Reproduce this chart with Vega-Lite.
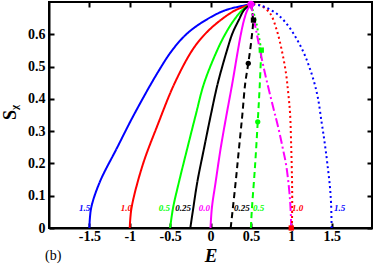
{
  "$schema": "https://vega.github.io/schema/vega-lite/v6.json",
  "width": 323,
  "height": 226,
  "autosize": "none",
  "padding": {"left": 49, "top": 2, "right": 2, "bottom": 36},
  "background": "white",
  "title": {"text": "(b)", "orient": "bottom", "anchor": "start", "frame": "group", "font": "Liberation Serif, DejaVu Serif, serif", "fontSize": 14, "fontWeight": "normal", "color": "black", "offset": -16, "dx": -4},
  "config": {
    "view": {"stroke": "black", "strokeWidth": 2},
    "font": "Liberation Serif, DejaVu Serif, serif",
    "axis": {"domainColor": "black", "domainWidth": 2, "tickColor": "black", "tickWidth": 2, "tickSize": -5, "labelFont": "Liberation Serif, DejaVu Serif, serif", "labelFontSize": 14, "labelFontWeight": "bold", "labelColor": "black", "grid": false, "titleFont": "Liberation Serif, DejaVu Serif, serif", "titleColor": "black"}
  },
  "datasets": {
    "curves": [
      {"c": "1.5L", "E": -1.5, "S": 0},
      {"c": "1.5L", "E": -1.478, "S": 0.062},
      {"c": "1.5L", "E": -1.37, "S": 0.143},
      {"c": "1.5L", "E": -1.16, "S": 0.247},
      {"c": "1.5L", "E": -0.95, "S": 0.35},
      {"c": "1.5L", "E": -0.66, "S": 0.479},
      {"c": "1.5L", "E": -0.473, "S": 0.551},
      {"c": "1.5L", "E": -0.287, "S": 0.603},
      {"c": "1.5L", "E": -0.059, "S": 0.644},
      {"c": "1.5L", "E": 0.189, "S": 0.675},
      {"c": "1.5L", "E": 0.5, "S": 0.693},
      {"c": "1.0L", "E": -1.0, "S": 0},
      {"c": "1.0L", "E": -0.978, "S": 0.062},
      {"c": "1.0L", "E": -0.84, "S": 0.195},
      {"c": "1.0L", "E": -0.655, "S": 0.319},
      {"c": "1.0L", "E": -0.445, "S": 0.448},
      {"c": "1.0L", "E": -0.225, "S": 0.551},
      {"c": "1.0L", "E": -0.059, "S": 0.603},
      {"c": "1.0L", "E": 0.126, "S": 0.644},
      {"c": "1.0L", "E": 0.312, "S": 0.675},
      {"c": "1.0L", "E": 0.5, "S": 0.693},
      {"c": "0.5L", "E": -0.5, "S": 0},
      {"c": "0.5L", "E": -0.464, "S": 0.062},
      {"c": "0.5L", "E": -0.39, "S": 0.143},
      {"c": "0.5L", "E": -0.287, "S": 0.247},
      {"c": "0.5L", "E": -0.183, "S": 0.35},
      {"c": "0.5L", "E": -0.08, "S": 0.448},
      {"c": "0.5L", "E": 0.084, "S": 0.551},
      {"c": "0.5L", "E": 0.188, "S": 0.603},
      {"c": "0.5L", "E": 0.291, "S": 0.644},
      {"c": "0.5L", "E": 0.394, "S": 0.675},
      {"c": "0.5L", "E": 0.5, "S": 0.693},
      {"c": "0.25L", "E": -0.25, "S": 0},
      {"c": "0.25L", "E": -0.213, "S": 0.062},
      {"c": "0.25L", "E": -0.163, "S": 0.143},
      {"c": "0.25L", "E": -0.08, "S": 0.247},
      {"c": "0.25L", "E": 0.004, "S": 0.35},
      {"c": "0.25L", "E": 0.09, "S": 0.448},
      {"c": "0.25L", "E": 0.205, "S": 0.551},
      {"c": "0.25L", "E": 0.272, "S": 0.603},
      {"c": "0.25L", "E": 0.35, "S": 0.644},
      {"c": "0.25L", "E": 0.415, "S": 0.675},
      {"c": "0.25L", "E": 0.5, "S": 0.693},
      {"c": "0.0L", "E": 0.0, "S": 0},
      {"c": "0.0L", "E": 0.017, "S": 0.062},
      {"c": "0.0L", "E": 0.064, "S": 0.143},
      {"c": "0.0L", "E": 0.126, "S": 0.247},
      {"c": "0.0L", "E": 0.198, "S": 0.35},
      {"c": "0.0L", "E": 0.27, "S": 0.448},
      {"c": "0.0L", "E": 0.34, "S": 0.551},
      {"c": "0.0L", "E": 0.378, "S": 0.603},
      {"c": "0.0L", "E": 0.415, "S": 0.644},
      {"c": "0.0L", "E": 0.456, "S": 0.675},
      {"c": "0.0L", "E": 0.5, "S": 0.693},
      {"c": "0.25R", "E": 0.25, "S": 0},
      {"c": "0.25R", "E": 0.312, "S": 0.143},
      {"c": "0.25R", "E": 0.353, "S": 0.247},
      {"c": "0.25R", "E": 0.394, "S": 0.35},
      {"c": "0.25R", "E": 0.43, "S": 0.448},
      {"c": "0.25R", "E": 0.468, "S": 0.51},
      {"c": "0.25R", "E": 0.506, "S": 0.582},
      {"c": "0.25R", "E": 0.527, "S": 0.644},
      {"c": "0.25R", "E": 0.5, "S": 0.693},
      {"c": "0.5Ru", "E": 0.629, "S": 0.551},
      {"c": "0.5Ru", "E": 0.592, "S": 0.603},
      {"c": "0.5Ru", "E": 0.56, "S": 0.644},
      {"c": "0.5Ru", "E": 0.5, "S": 0.693},
      {"c": "0.5Rl", "E": 0.5, "S": 0},
      {"c": "0.5Rl", "E": 0.512, "S": 0.056},
      {"c": "0.5Rl", "E": 0.551, "S": 0.19},
      {"c": "0.5Rl", "E": 0.585, "S": 0.329},
      {"c": "0.5Rl", "E": 0.61, "S": 0.443},
      {"c": "0.5Rl", "E": 0.629, "S": 0.551},
      {"c": "0.0R", "E": 1.0, "S": 0},
      {"c": "0.0R", "E": 0.985, "S": 0.087},
      {"c": "0.0R", "E": 0.94, "S": 0.19},
      {"c": "0.0R", "E": 0.895, "S": 0.247},
      {"c": "0.0R", "E": 0.84, "S": 0.31},
      {"c": "0.0R", "E": 0.77, "S": 0.38},
      {"c": "0.0R", "E": 0.66, "S": 0.495},
      {"c": "0.0R", "E": 0.572, "S": 0.603},
      {"c": "0.0R", "E": 0.5, "S": 0.693},
      {"c": "1.0R", "E": 1.008, "S": 0.0},
      {"c": "1.0R", "E": 1.012, "S": 0.087},
      {"c": "1.0R", "E": 1.009, "S": 0.155},
      {"c": "1.0R", "E": 1.0, "S": 0.247},
      {"c": "1.0R", "E": 0.985, "S": 0.356},
      {"c": "1.0R", "E": 0.963, "S": 0.417},
      {"c": "1.0R", "E": 0.935, "S": 0.479},
      {"c": "1.0R", "E": 0.882, "S": 0.551},
      {"c": "1.0R", "E": 0.82, "S": 0.613},
      {"c": "1.0R", "E": 0.737, "S": 0.665},
      {"c": "1.0R", "E": 0.613, "S": 0.69},
      {"c": "1.0R", "E": 0.5, "S": 0.693},
      {"c": "1.5R", "E": 1.5, "S": 0},
      {"c": "1.5R", "E": 1.493, "S": 0.076},
      {"c": "1.5R", "E": 1.479, "S": 0.128},
      {"c": "1.5R", "E": 1.459, "S": 0.174},
      {"c": "1.5R", "E": 1.434, "S": 0.226},
      {"c": "1.5R", "E": 1.406, "S": 0.278},
      {"c": "1.5R", "E": 1.375, "S": 0.329},
      {"c": "1.5R", "E": 1.331, "S": 0.402},
      {"c": "1.5R", "E": 1.282, "S": 0.453},
      {"c": "1.5R", "E": 1.222, "S": 0.5},
      {"c": "1.5R", "E": 1.158, "S": 0.541},
      {"c": "1.5R", "E": 1.075, "S": 0.582},
      {"c": "1.5R", "E": 0.972, "S": 0.623},
      {"c": "1.5R", "E": 0.848, "S": 0.658},
      {"c": "1.5R", "E": 0.72, "S": 0.679},
      {"c": "1.5R", "E": 0.6, "S": 0.69},
      {"c": "1.5R", "E": 0.5, "S": 0.693}
    ],
    "labels": [
      {"c": "1.5L", "E": -1.49, "S": 0.062, "t": "1.5", "side": "L"},
      {"c": "1.0L", "E": -0.972, "S": 0.062, "t": "1.0", "side": "L"},
      {"c": "0.5L", "E": -0.502, "S": 0.062, "t": "0.5", "side": "L"},
      {"c": "0.25L", "E": -0.242, "S": 0.062, "t": "0.25", "side": "L"},
      {"c": "0.0L", "E": -0.006, "S": 0.062, "t": "0.0", "side": "L"},
      {"c": "0.25R", "E": 0.291, "S": 0.062, "t": "0.25", "side": "R"},
      {"c": "0.5Rl", "E": 0.526, "S": 0.062, "t": "0.5", "side": "R"},
      {"c": "1.0R", "E": 1.009, "S": 0.062, "t": "1.0", "side": "R"},
      {"c": "1.5R", "E": 1.529, "S": 0.062, "t": "1.5", "side": "R"}
    ],
    "markers": [
      {"c": "0.0L", "E": 0.5, "S": 0.693, "sh": "circle"},
      {"c": "0.25R", "E": 0.532, "S": 0.644, "sh": "square"},
      {"c": "0.25R", "E": 0.468, "S": 0.51, "sh": "circle"},
      {"c": "0.5Rl", "E": 0.629, "S": 0.551, "sh": "square"},
      {"c": "0.5Rl", "E": 0.585, "S": 0.329, "sh": "circle"},
      {"c": "1.0R", "E": 1.0, "S": 0.0, "sh": "square"}
    ]
  },
  "resolve": {"axis": {"x": "independent", "y": "independent"}},
  "layer": [
    {
      "data": {"name": "curves"},
      "mark": {"type": "line", "strokeWidth": 2, "strokeCap": "butt", "interpolate": "catmull-rom"},
      "encoding": {
        "x": {"field": "E", "type": "quantitative", "scale": {"domain": [-2, 2], "nice": false, "zero": false},
          "axis": {"orient": "bottom", "values": [-1.5, -1, -0.5, 0, 0.5, 1, 1.5], "labelExpr": "'' + datum.value", "labelPadding": 6, "title": "E", "titleFontSize": 19, "titleFontWeight": "bold", "titleFontStyle": "italic", "titleBaseline": "alphabetic", "titleY": 33}},
        "y": {"field": "S", "type": "quantitative", "scale": {"domain": [0, 0.7], "nice": false},
          "axis": {"orient": "left", "values": [0, 0.1, 0.2, 0.3, 0.4, 0.5, 0.6], "labelExpr": "datum.value == 0 ? '0' : format(datum.value, '.1f')", "labelPadding": 9, "title": "Sᵪ", "titleFontSize": 18, "titleFontWeight": "bold", "titleAngle": -90, "titleX": -39, "titleY": 110, "titleAlign": "center", "titleBaseline": "middle"}},
        "detail": {"field": "c"},
        "order": {"field": "S", "type": "quantitative"},
        "color": {"field": "c", "type": "nominal", "legend": null,
          "scale": {"domain": ["1.5L", "1.0L", "0.5L", "0.25L", "0.0L", "0.25R", "0.5Ru", "0.5Rl", "0.0R", "1.0R", "1.5R"],
            "range": ["#0000ff", "#ff0000", "#00ff00", "#000000", "#ff00ff", "#000000", "#00ff00", "#00ff00", "#ff00ff", "#ff0000", "#0000ff"]}},
        "strokeDash": {"field": "c", "type": "nominal", "legend": null,
          "scale": {"domain": ["1.5L", "1.0L", "0.5L", "0.25L", "0.0L", "0.25R", "0.5Ru", "0.5Rl", "0.0R", "1.0R", "1.5R"],
            "range": [[1, 0], [1, 0], [1, 0], [1, 0], [1, 0], [6, 4], [2, 3], [6, 4], [9, 3, 2, 3], [2, 3], [2, 3]]}}
      }
    },
    {
      "data": {"name": "labels"},
      "transform": [{"filter": "datum.side == 'L'"}],
      "mark": {"type": "text", "align": "right", "baseline": "middle", "font": "Liberation Serif, DejaVu Serif, serif", "fontSize": 9, "fontWeight": "bold", "fontStyle": "italic"},
      "encoding": {
        "x": {"field": "E", "type": "quantitative", "axis": null},
        "y": {"field": "S", "type": "quantitative", "axis": null},
        "text": {"field": "t"},
        "color": {"field": "c", "type": "nominal", "legend": null}
      }
    },
    {
      "data": {"name": "labels"},
      "transform": [{"filter": "datum.side == 'R'"}],
      "mark": {"type": "text", "align": "left", "baseline": "middle", "font": "Liberation Serif, DejaVu Serif, serif", "fontSize": 9, "fontWeight": "bold", "fontStyle": "italic"},
      "encoding": {
        "x": {"field": "E", "type": "quantitative", "axis": null},
        "y": {"field": "S", "type": "quantitative", "axis": null},
        "text": {"field": "t"},
        "color": {"field": "c", "type": "nominal", "legend": null}
      }
    },
    {
      "data": {"name": "markers"},
      "mark": {"type": "point", "filled": true, "opacity": 1},
      "encoding": {
        "x": {"field": "E", "type": "quantitative",
          "axis": {"orient": "top", "values": [-1.5, -1, -0.5, 0, 0.5, 1, 1.5], "labels": false, "title": null, "domain": false}},
        "y": {"field": "S", "type": "quantitative",
          "axis": {"orient": "right", "values": [0, 0.1, 0.2, 0.3, 0.4, 0.5, 0.6], "labels": false, "title": null, "domain": false}},
        "shape": {"field": "sh", "type": "nominal", "legend": null, "scale": {"domain": ["circle", "square"], "range": ["circle", "square"]}},
        "size": {"field": "c", "type": "nominal", "legend": null, "scale": {"type": "ordinal", "domain": ["0.0L", "0.25R", "0.5Rl", "1.0R"], "range": [50, 28, 28, 28]}},
        "color": {"field": "c", "type": "nominal", "legend": null}
      }
    }
  ]
}
